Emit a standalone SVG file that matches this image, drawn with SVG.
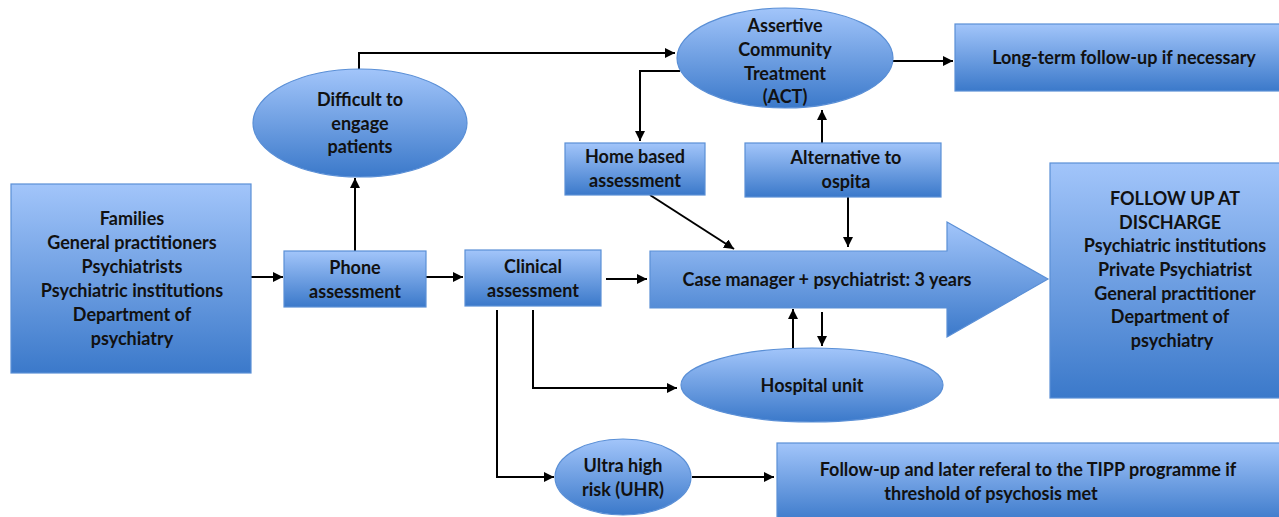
<svg xmlns="http://www.w3.org/2000/svg" width="1279" height="517" viewBox="0 0 1279 517">
<defs>
<linearGradient id="g" x1="0" y1="0" x2="0" y2="1">
<stop offset="0" stop-color="#a2c5fa"/>
<stop offset="1" stop-color="#3b79ca"/>
</linearGradient>
<marker id="ah" viewBox="0 0 10 10" refX="10" refY="5" markerWidth="10" markerHeight="10" markerUnits="userSpaceOnUse" orient="auto">
<path d="M0,0 L10,5 L0,10 z" fill="#000"/>
</marker>
</defs>
<style>
.n{fill:url(#g);stroke:#5a8fd6;stroke-width:1.2}
.t{font-family:Lato,"Liberation Sans",sans-serif;font-weight:bold;font-size:18px;fill:#111;text-anchor:middle}
.c{fill:none;stroke:#000;stroke-width:2;marker-end:url(#ah)}
</style>
<rect width="1279" height="517" fill="#fff"/>
<g id="connectors">
<path class="c" d="M251,277 H283"/>
<path class="c" d="M355,251 V178"/>
<path class="c" d="M359,69 V53 H675"/>
<path class="c" d="M893,61 H953"/>
<path class="c" d="M680,71 H640 V141"/>
<path class="c" d="M822,143 V110"/>
<path class="c" d="M848,197 V247"/>
<path class="c" d="M650,195 L734,249"/>
<path class="c" d="M426,277 H463"/>
<path class="c" d="M606,279 H647"/>
<path class="c" d="M793,348 V309"/>
<path class="c" d="M822,312 V346"/>
<path class="c" d="M533,310 V388 H677"/>
<path class="c" d="M497,310 V477 H554"/>
<path class="c" d="M692,477 H774"/>
</g>
<g id="sources">
<rect class="n" x="11" y="184" width="240" height="189"/>
<text class="t" x="132" y="225">Families</text>
<text class="t" x="132" y="249">General practitioners</text>
<text class="t" x="132" y="273">Psychiatrists</text>
<text class="t" x="132" y="297">Psychiatric institutions</text>
<text class="t" x="132" y="321">Department of</text>
<text class="t" x="132" y="345">psychiatry</text>
</g>
<g id="phone">
<rect class="n" x="284" y="251" width="142" height="56"/>
<text class="t" x="355" y="274">Phone</text>
<text class="t" x="355" y="298">assessment</text>
</g>
<g id="difficult">
<ellipse class="n" cx="360" cy="123" rx="107" ry="54"/>
<text class="t" x="360" y="106">Difficult to</text>
<text class="t" x="360" y="130">engage</text>
<text class="t" x="360" y="153">patients</text>
</g>
<g id="act">
<ellipse class="n" cx="785" cy="58" rx="108" ry="50"/>
<text class="t" x="785" y="32">Assertive</text>
<text class="t" x="785" y="56">Community</text>
<text class="t" x="785" y="80">Treatment</text>
<text class="t" x="785" y="103">(ACT)</text>
</g>
<g id="longterm">
<rect class="n" x="955" y="24" width="330" height="67"/>
<text class="t" x="1124" y="64">Long-term follow-up if necessary</text>
</g>
<g id="home">
<rect class="n" x="565" y="143" width="140" height="52"/>
<text class="t" x="635" y="163">Home based</text>
<text class="t" x="635" y="187">assessment</text>
</g>
<g id="alternative">
<rect class="n" x="745" y="143" width="196" height="54"/>
<text class="t" x="846" y="164">Alternative to</text>
<text class="t" x="846" y="188">ospita</text>
</g>
<g id="clinical">
<rect class="n" x="465" y="250" width="136" height="56"/>
<text class="t" x="533" y="273">Clinical</text>
<text class="t" x="533" y="297">assessment</text>
</g>
<g id="casemanager">
<path class="n" d="M650,251 H947 V222 L1048,279 L947,337 V308 H650 Z"/>
<text class="t" x="827" y="286">Case manager + psychiatrist: 3 years</text>
</g>
<g id="hospital">
<ellipse class="n" cx="812" cy="385" rx="131" ry="37"/>
<text class="t" x="812" y="392">Hospital unit</text>
</g>
<g id="discharge">
<rect class="n" x="1050" y="163" width="235" height="235"/>
<text class="t" x="1175" y="205">FOLLOW UP AT</text>
<text class="t" x="1170" y="229">DISCHARGE</text>
<text class="t" x="1175" y="252">Psychiatric institutions</text>
<text class="t" x="1175" y="276">Private Psychiatrist</text>
<text class="t" x="1175" y="300">General practitioner</text>
<text class="t" x="1170" y="323">Department of</text>
<text class="t" x="1172" y="347">psychiatry</text>
</g>
<g id="uhr">
<ellipse class="n" cx="623" cy="477" rx="68" ry="38"/>
<text class="t" x="623" y="472">Ultra high</text>
<text class="t" x="623" y="496">risk (UHR)</text>
</g>
<g id="tipp">
<rect class="n" x="777" y="443" width="510" height="80"/>
<text class="t" x="1028" y="476">Follow-up and later referal to the TIPP programme if</text>
<text class="t" x="991" y="500">threshold of psychosis met</text>
</g>
</svg>
